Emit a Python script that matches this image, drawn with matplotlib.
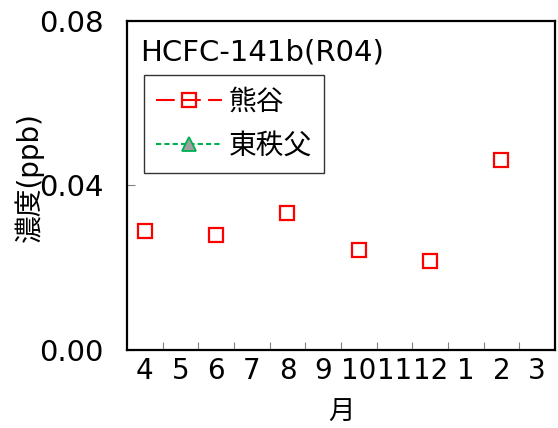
import numpy as np
import matplotlib.pyplot as plt

plt.rcParams['font.family'] = ['DejaVu Sans', 'Noto Sans CJK JP']

months = ['4', '5', '6', '7', '8', '9', '10', '11', '12', '1', '2', '3']
kumagaya = [0.0290, np.nan, 0.0280, np.nan, 0.0334, np.nan, 0.0243, np.nan,
            0.0217, np.nan, 0.0462, np.nan]
higashichichibu = [np.nan] * 12

fig = plt.figure(figsize=(5.58, 4.28), dpi=100)
ax = fig.add_axes([0.2276, 0.1822, 0.767, 0.7694])

x = np.arange(len(months))
ax.plot(x, kumagaya, color='red', linestyle=(0, (9, 3.5)), lw=1.5,
        marker='s', markersize=10, markerfacecolor='none',
        markeredgecolor='red', markeredgewidth=1.6, label='熊谷')
ax.plot(x, higashichichibu, color='#00b050', linestyle=(0, (2.5, 1.5)), lw=1.5,
        marker='^', markersize=10, markerfacecolor='#a0a0a0',
        markeredgecolor='#00b050', markeredgewidth=1.3, label='東秩父')

ax.set_xlim(-0.5, 11.5)
ax.set_ylim(0, 0.08)
ax.set_yticks([0.0, 0.04, 0.08])
ax.set_yticklabels(['0.00', '0.04', '0.08'])
ax.set_xticks(np.arange(0.5, 11.5, 1))
ax.set_xticklabels([])
ax.set_xticks(x, minor=True)
ax.set_xticklabels(months, minor=True)
ax.tick_params(axis='x', which='major', direction='in', length=6, color='gray')
ax.tick_params(axis='x', which='minor', length=0, labelsize=20, pad=5)
ax.tick_params(axis='y', direction='in', length=6, color='gray',
               labelsize=21, pad=17)
for s in ax.spines.values():
    s.set_linewidth(1.6)

ax.set_xlabel('月', fontsize=19)
ax.xaxis.set_label_coords(0.5, -0.15)
ax.set_ylabel('濃度(ppb)', fontsize=20)
ax.yaxis.set_label_coords(-0.195, 0.525)

ax.text(0.03, 0.902, 'HCFC-141b(R04)', transform=ax.transAxes,
        fontsize=21, va='center', ha='left')
leg = ax.legend(loc='upper left', bbox_to_anchor=(0.0397, 0.835), fontsize=20,
                handlelength=2.35, frameon=True, fancybox=False,
                edgecolor='black', borderpad=0.45, labelspacing=0.6,
                handletextpad=0.25, borderaxespad=0)
leg.get_frame().set_linewidth(1.0)

plt.savefig('out.png', dpi=100)
